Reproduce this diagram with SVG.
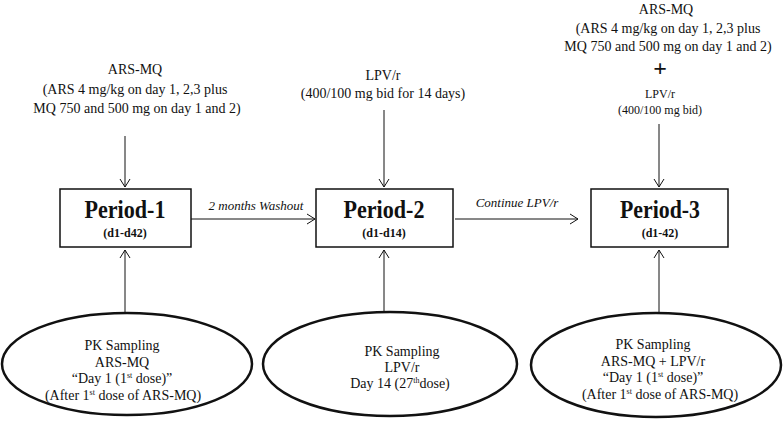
<svg xmlns="http://www.w3.org/2000/svg" width="784" height="422" viewBox="0 0 784 422">
<style>
  text { font-family: "Liberation Serif", "Times New Roman", serif; fill: #111; text-anchor: middle; }
  .t14 { font-size: 14px; }
  .t12 { font-size: 12px; }
  .title { font-size: 26px; font-weight: bold; }
  .sub { font-size: 12px; font-weight: bold; }
  .lab { font-size: 13px; font-style: italic; }
  .plus { font-size: 24px; font-weight: bold; }
  .box { fill: #fff; stroke: #111; stroke-width: 1.5; }
  .ell { fill: #fff; stroke: #111; stroke-width: 2.5; }
  .line { stroke: #111; stroke-width: 1; fill: none; }
  .sup { font-size: 8px; }
</style>
<defs>
  <marker id="arr" viewBox="0 0 12 12" refX="11" refY="6" markerWidth="12" markerHeight="12" markerUnits="userSpaceOnUse" orient="auto">
    <polyline points="3,1 11,6 3,11" fill="none" stroke="#111" stroke-width="1"/>
  </marker>
</defs>
<rect width="784" height="422" fill="#fff"/>

<g id="dose1">
  <text class="t14" x="135" y="74">ARS-MQ</text>
  <text class="t14" x="135" y="94">(ARS 4 mg/kg on day 1, 2,3 plus</text>
  <text class="t14" x="137" y="113">MQ 750 and 500 mg on day 1 and 2)</text>
</g>
<g id="dose2">
  <text class="t14" x="383" y="80">LPV/r</text>
  <text class="t14" x="383" y="98">(400/100 mg bid for 14 days)</text>
</g>
<g id="dose3">
  <text class="t14" x="666" y="14">ARS-MQ</text>
  <text class="t14" x="668" y="33">(ARS 4 mg/kg on day 1, 2,3 plus</text>
  <text class="t14" x="668" y="51">MQ 750 and 500 mg on day 1 and 2)</text>
  <text class="plus" x="660" y="76">+</text>
  <text class="t12" x="660" y="98">LPV/r</text>
  <text class="t12" x="660" y="114">(400/100 mg bid)</text>
</g>

<g id="connectors">
  <line class="line" x1="125" y1="136" x2="125" y2="187" marker-end="url(#arr)"/>
  <line class="line" x1="384" y1="110" x2="384" y2="187" marker-end="url(#arr)"/>
  <line class="line" x1="659" y1="124" x2="659" y2="187" marker-end="url(#arr)"/>
  <line class="line" x1="125" y1="313" x2="125" y2="250" marker-end="url(#arr)"/>
  <line class="line" x1="384" y1="312" x2="384" y2="250" marker-end="url(#arr)"/>
  <line class="line" x1="659" y1="313" x2="659" y2="250" marker-end="url(#arr)"/>
  <line class="line" x1="191" y1="219" x2="315" y2="219" marker-end="url(#arr)"/>
  <line class="line" x1="455" y1="219" x2="578" y2="219" marker-end="url(#arr)"/>
  <text class="lab" x="256" y="210">2 months Washout</text>
  <text class="lab" x="517" y="207">Continue LPV/r</text>
</g>

<g id="period1">
  <rect class="box" x="60" y="189" width="131" height="58"/>
  <text class="title" x="125" y="218" textLength="81" lengthAdjust="spacingAndGlyphs">Period-1</text>
  <text class="sub" x="125" y="237">(d1-d42)</text>
</g>
<g id="period2">
  <rect class="box" x="316" y="189" width="137" height="58"/>
  <text class="title" x="384" y="218" textLength="81" lengthAdjust="spacingAndGlyphs">Period-2</text>
  <text class="sub" x="384" y="237">(d1-d14)</text>
</g>
<g id="period3">
  <rect class="box" x="591" y="189" width="137" height="58"/>
  <text class="title" x="660" y="218" textLength="80" lengthAdjust="spacingAndGlyphs">Period-3</text>
  <text class="sub" x="660" y="237">(d1-42)</text>
</g>

<g id="pk1">
  <ellipse class="ell" cx="127" cy="364" rx="125" ry="51"/>
  <text class="t14" x="122" y="350">PK Sampling</text>
  <text class="t14" x="122" y="367">ARS-MQ</text>
  <text class="t14" x="122" y="383">“Day 1 (1<tspan class="sup" dy="-5">st</tspan><tspan dy="5"> dose)”</tspan></text>
  <text class="t14" x="123" y="400">(After 1<tspan class="sup" dy="-5">st</tspan><tspan dy="5"> dose of ARS-MQ)</tspan></text>
</g>
<g id="pk2">
  <ellipse class="ell" cx="390" cy="364" rx="127" ry="52"/>
  <text class="t14" x="402" y="356">PK Sampling</text>
  <text class="t14" x="402" y="372">LPV/r</text>
  <text class="t14" x="400" y="388">Day 14 (27<tspan class="sup" dy="-5">th</tspan><tspan dy="5">dose)</tspan></text>
</g>
<g id="pk3">
  <ellipse class="ell" cx="656" cy="365" rx="125" ry="52"/>
  <text class="t14" x="653" y="349">PK Sampling</text>
  <text class="t14" x="653" y="366">ARS-MQ + LPV/r</text>
  <text class="t14" x="653" y="382">“Day 1 (1<tspan class="sup" dy="-5">st</tspan><tspan dy="5"> dose)”</tspan></text>
  <text class="t14" x="660" y="399">(After 1<tspan class="sup" dy="-5">st</tspan><tspan dy="5"> dose of ARS-MQ)</tspan></text>
</g>
</svg>
